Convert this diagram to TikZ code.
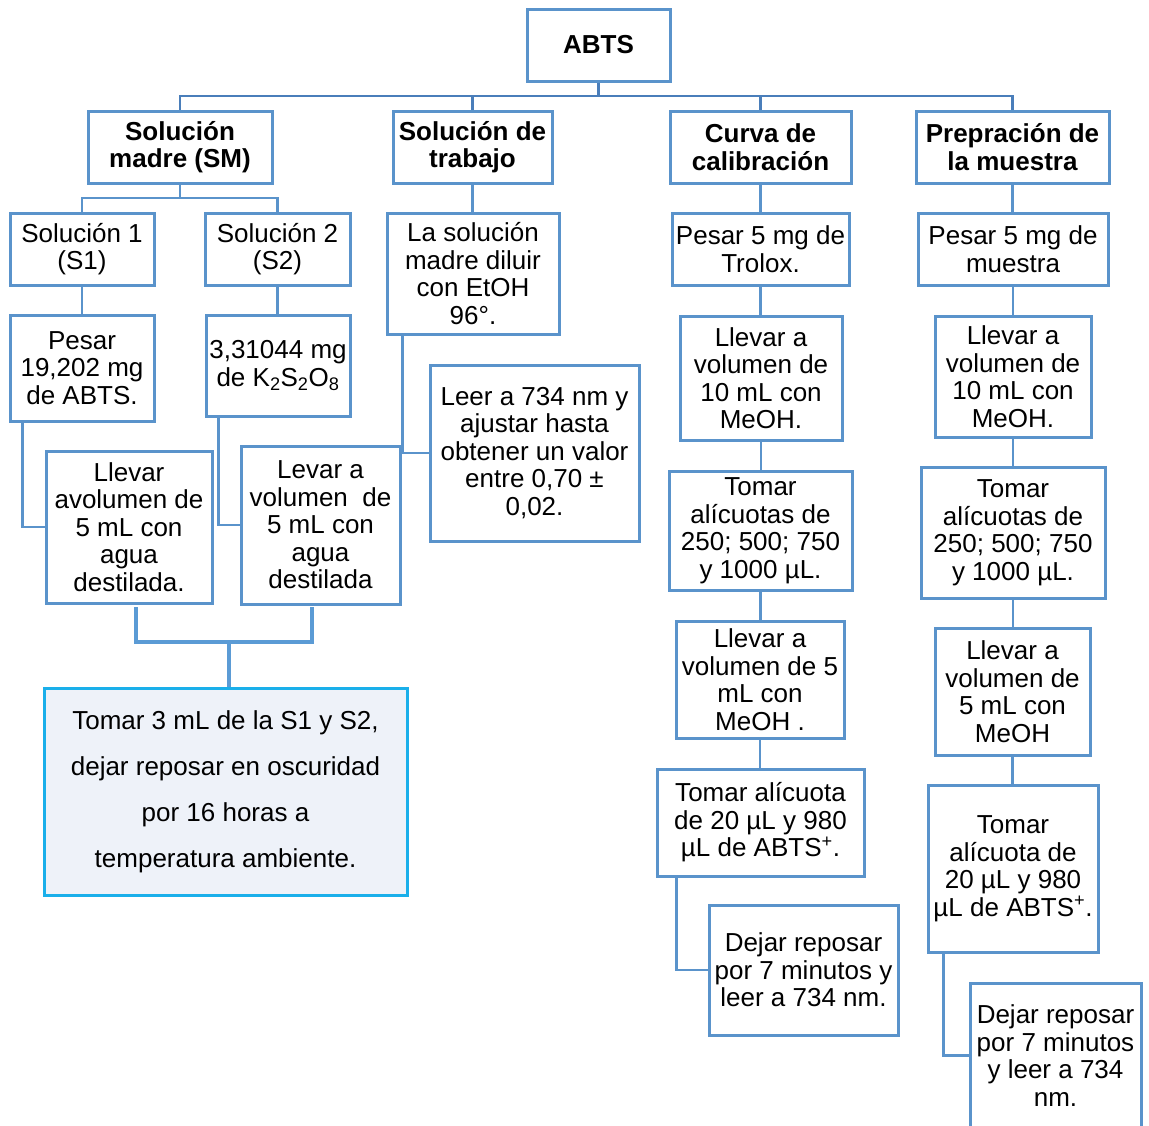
\documentclass[tikz,border=0pt]{standalone}
\usepackage{fontspec}
\setmainfont{Liberation Sans}
\definecolor{boxc}{HTML}{5A93CB}
\definecolor{barc}{HTML}{4A7EBA}
\definecolor{brc}{HTML}{5B9BD5}
\definecolor{cyanc}{HTML}{1AAFEA}
\definecolor{fillc}{HTML}{EEF2F9}
\newcommand\myfs{\fontsize{26}{27.5}\selectfont}
\newcommand\mybox[7][]{%
  \node[box,minimum width={(#5)-(#3)},minimum height={(#6)-(#4)},#1] (#2) at ({((#3)+(#5))/2},{((#4)+(#6))/2}) {#7};}
\begin{document}
\begin{tikzpicture}[x=1pt,y=-1pt,
  box/.style={draw=boxc,line width=3pt,align=center,inner sep=0pt,font=\myfs,fill=white},
  hd/.style={font=\myfs\bfseries},
  link/.style={draw=boxc,line width=2.8pt},
  toplink/.style={draw=barc,line width=2.8pt},
  brlink/.style={draw=brc,line width=3.2pt}]
\useasboundingbox (0,0) rectangle (1149,1125);
% headers
\mybox[hd]{abts}{527}{9}{670}{81}{ABTS}
\mybox[hd]{sm}{88}{111}{272}{183}{Solución\\madre (SM)}
\mybox[hd]{st}{393}{111}{552}{183}{Solución de\\trabajo}
\mybox[hd]{cc}{670}{111}{851}{183}{Curva de\\calibración}
\mybox[hd]{pm}{916}{111}{1109}{183}{Prepración de\\la muestra}
% SM branch
\mybox{s1}{10}{213}{154}{285}{Solución 1\\(S1)}
\mybox{s2}{205}{213}{350}{285}{Solución 2\\(S2)}
\mybox{p1}{10}{315}{154}{421}{Pesar\\19,202 mg\\de ABTS.}
\mybox{p2}{206}{315}{350}{416}{3,31044 mg\\de K\textsubscript{2}S\textsubscript{2}O\textsubscript{8}}
\mybox{ll1}{46}{451}{212}{603}{Llevar\\avolumen de\\5 mL con\\agua\\destilada.}
\mybox{lv2}{241}{446}{400}{604}{Levar a\\volumen\ \ de\\5 mL con\\agua\\destilada}
\mybox[draw=cyanc,fill=fillc,font=\fontsize{26}{46}\selectfont]{t3}{44}{688}{407}{895}{Tomar 3 mL de la S1 y S2,\\dejar reposar en oscuridad\\por 16 horas a\\temperatura ambiente.}
% trabajo branch
\mybox{ls}{387}{213}{559}{334}{La solución\\madre diluir\\con EtOH\\96°.}
\mybox{leer}{430}{365}{639}{541}{Leer a 734 nm y\\ajustar hasta\\obtener un valor\\entre 0,70 ±\\0,02.}
% curva branch
\mybox{c1}{672}{213}{849}{285}{Pesar 5 mg de\\Trolox.}
\mybox{c2}{680}{316}{842}{440}{Llevar a\\volumen de\\10 mL con\\MeOH.}
\mybox{c3}{669}{471}{852}{590}{Tomar\\alícuotas de\\250; 500; 750\\y 1000 µL.}
\mybox{c4}{676}{621}{844}{738}{Llevar a\\volumen de 5\\mL con\\MeOH .}
\mybox{c5}{657}{769}{864}{876}{Tomar alícuota\\de 20 µL y 980\\µL de ABTS\textsuperscript{+}.}
\mybox{c6}{709}{905}{898}{1035}{Dejar reposar\\por 7 minutos y\\leer a 734 nm.}
% muestra branch
\mybox{m1}{918}{213}{1108}{285}{Pesar 5 mg de\\muestra}
\mybox{m2}{935}{316}{1091}{437}{Llevar a\\volumen de\\10 mL con\\MeOH.}
\mybox{m3}{921}{467}{1105}{598}{Tomar\\alícuotas de\\250; 500; 750\\y 1000 µL.}
\mybox{m4}{935}{628}{1090}{755}{Llevar a\\volumen de\\5 mL con\\MeOH}
\mybox{m5}{928}{785}{1098}{952}{Tomar\\alícuota de\\20 µL y 980\\µL de ABTS\textsuperscript{+}.}
\mybox{m6}{970}{983}{1141}{1128}{Dejar reposar\\por 7 minutos\\y leer a 734\\nm.}
% top connectors
\coordinate (bar) at (0,96);
\draw[toplink] (abts.south) -- (abts.south |- bar);
\draw[toplink] (sm.north) -- (sm.north |- bar) -- (pm.north |- bar) -- (pm.north);
\draw[toplink] (st.north) -- (st.north |- bar);
\draw[toplink] (cc.north) -- (cc.north |- bar);
% SM connectors
\coordinate (smbar) at (0,198);
\draw[link] (sm.south) -- (sm.south |- smbar);
\draw[link] (s1.north) -- (s1.north |- smbar) -- (s2.north |- smbar) -- (s2.north);
\draw[link] (s1.south) -- (s1.south |- p1.north);
\draw[link] (s2.south) -- (s2.south |- p2.north);
\draw[link] ([xshift=14pt]p1.south west) |- (ll1.west);
\draw[link] ([xshift=14pt]p2.south west) |- (lv2.west);
% bracket
\coordinate (bra) at (136,607);
\coordinate (brb) at (136,642);
\coordinate (brc) at (312,642);
\coordinate (brd) at (312,607);
\coordinate (brm) at (229,642);
\draw[brlink] (bra) -- (brb) -- (brc) -- (brd);
\draw[brlink] (brm) -- (brm |- t3.north);
% trabajo
\draw[link] (st.south) -- (st.south |- ls.north);
\draw[link] ([xshift=17pt]ls.south west) |- (leer.west);
% curva
\draw[link] (cc.south) -- (cc.south |- c1.north);
\draw[link] (c1.south) -- (c1.south |- c2.north);
\draw[link] (c2.south) -- (c2.south |- c3.north);
\draw[link] (c3.south) -- (c3.south |- c4.north);
\draw[link] (c4.south) -- (c4.south |- c5.north);
\draw[link] ([xshift=21pt]c5.south west) |- (c6.west);
% muestra
\draw[link] (pm.south) -- (pm.south |- m1.north);
\draw[link] (m1.south) -- (m1.south |- m2.north);
\draw[link] (m2.south) -- (m2.south |- m3.north);
\draw[link] (m3.south) -- (m3.south |- m4.north);
\draw[link] (m4.south) -- (m4.south |- m5.north);
\draw[link] ([xshift=17pt]m5.south west) |- (m6.west);
\end{tikzpicture}
\end{document}
